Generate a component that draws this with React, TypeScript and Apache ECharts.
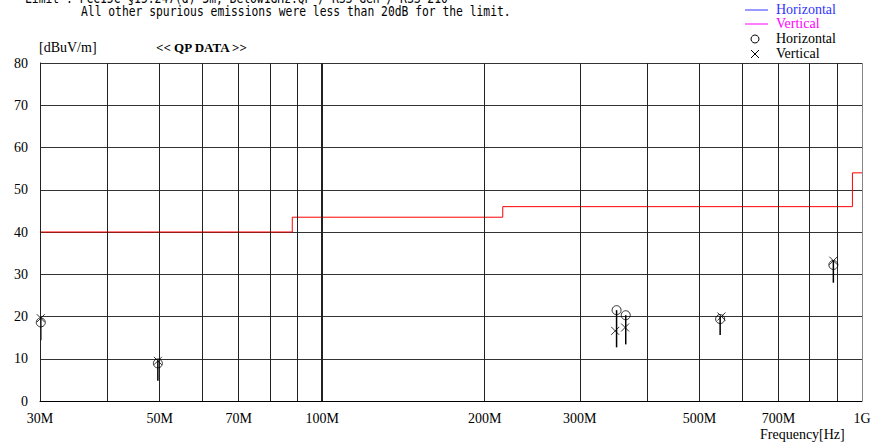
import React, { useEffect, useRef } from "react";
import * as echarts from "echarts";

// Grid frequencies (MHz)
const gridFreqs = [30, 40, 50, 60, 70, 80, 90, 100, 200, 300, 400, 500, 600, 700, 800, 900, 1000];
const tickFreqs = [30, 50, 70, 100, 200, 300, 500, 700, 1000];
const tickLabels = ["30M", "50M", "70M", "100M", "200M", "300M", "500M", "700M", "1G"];

// Limit line (step)
const limitFreq = [30, 88, 88, 216, 216, 960, 960, 1000];
const limitVal = [40, 40, 43.5, 43.5, 46, 46, 54, 54];

// QP data: Horizontal (circle)
const hFreq = [30.1, 49.6, 351, 365, 546, 885];
const hVal = [18.6, 8.9, 21.5, 20.3, 19.4, 32.2];
// QP data: Vertical (cross)
const vFreq = [30.1, 49.6, 349, 364, 549, 885];
const vVal = [19.6, 9.5, 16.6, 17.4, 20.0, 33.2];
// Stem bottoms
const stemLow = [14.4, 4.8, 12.7, 13.4, 15.6, 28.0];

const serif = "'Liberation Serif', 'Times New Roman', serif";
const mono = "'DejaVu Sans Mono', 'Liberation Mono', monospace";

export default function App() {
  const ref = useRef<HTMLDivElement>(null);
  useEffect(() => {
    if (!ref.current) return;
    const chart = echarts.init(ref.current, undefined, { renderer: "svg" });
    const stemData = hFreq.map((f, i) => [f, Math.max(hVal[i], vVal[i]), stemLow[i]]);
    const option: any = {
      animation: false,
      backgroundColor: "#fff",
      grid: { left: 40, right: 10, top: 63, bottom: 42, containLabel: false },
      xAxis: {
        type: "log",
        logBase: 10,
        min: 30,
        max: 1000,
        axisLine: { show: true, lineStyle: { color: "#000", width: 1 } },
        axisTick: { show: false },
        axisLabel: { show: false },
        splitLine: { show: false },
        minorSplitLine: { show: false },
      },
      yAxis: {
        type: "value",
        min: 0,
        max: 80,
        interval: 10,
        axisLine: { show: true, lineStyle: { color: "#000", width: 1 } },
        axisTick: { show: false },
        axisLabel: { color: "#000", fontFamily: serif, fontSize: 14, margin: 12 },
        splitLine: { show: true, lineStyle: { color: "#333", width: 1 } },
      },
      graphic: [
        { type: "text", x: 25, y: -9, scaleX: 0.84, style: { x: 0, y: 0, text: "Limit : FCC15C §15.247(d) 3m, Below1GHz:QP / RSS-Gen / RSS-210", font: `13.5px ${mono}`, fill: "#000", verticalAlign: "top", align: "left" } },
        { type: "text", x: 81, y: 4, scaleX: 0.84, style: { x: 0, y: 0, text: "All other spurious emissions were less than 20dB for the limit.", font: `13.5px ${mono}`, fill: "#000", verticalAlign: "top", align: "left" } },
        { type: "text", left: 39, top: 40, style: { text: "[dBuV/m]", font: `14px ${serif}`, fill: "#000" } },
        { type: "text", left: 156, top: 41, style: { text: "<< QP DATA >>", font: `bold 13px ${serif}`, fill: "#000" } },
        { type: "line", shape: { x1: 745, y1: 10, x2: 768, y2: 10 }, style: { stroke: "#3333ff", lineWidth: 1 } },
        { type: "text", left: 776, top: 2, style: { text: "Horizontal", font: `14px ${serif}`, fill: "#3333ff" } },
        { type: "line", shape: { x1: 745, y1: 24, x2: 768, y2: 24 }, style: { stroke: "#ff00ff", lineWidth: 1 } },
        { type: "text", left: 776, top: 16, style: { text: "Vertical", font: `14px ${serif}`, fill: "#ff00ff" } },
        { type: "circle", shape: { cx: 755, cy: 39, r: 4 }, style: { stroke: "#000", fill: "none", lineWidth: 1 } },
        { type: "text", left: 776, top: 31, style: { text: "Horizontal", font: `14px ${serif}`, fill: "#000" } },
        { type: "line", shape: { x1: 751, y1: 50, x2: 759, y2: 58 }, style: { stroke: "#000", lineWidth: 1 } },
        { type: "line", shape: { x1: 759, y1: 50, x2: 751, y2: 58 }, style: { stroke: "#000", lineWidth: 1 } },
        { type: "text", left: 776, top: 46, style: { text: "Vertical", font: `14px ${serif}`, fill: "#000" } },
        { type: "text", left: 760, top: 427, style: { text: "Frequency[Hz]", font: `14px ${serif}`, fill: "#000" } },
      ],
      series: [
        {
          type: "line",
          data: [[30, 0]],
          showSymbol: false,
          silent: true,
          z: 1,
          lineStyle: { width: 0 },
          markLine: {
            silent: true,
            symbol: ["none", "none"],
            animation: false,
            data: gridFreqs.map((f) => {
              const idx = tickFreqs.indexOf(f);
              return {
                xAxis: f,
                lineStyle: { color: f === 1000 ? "#888" : "#222", width: f === 100 ? 2 : 1, type: "solid" },
                label: {
                  show: idx >= 0,
                  position: "start",
                  formatter: idx >= 0 ? tickLabels[idx] : "",
                  color: "#000",
                  fontFamily: serif,
                  fontSize: 14,
                  distance: 10,
                },
              };
            }),
          },
        },
        {
          type: "line",
          name: "Limit",
          data: limitFreq.map((f, i) => [f, limitVal[i]]),
          showSymbol: false,
          z: 3,
          lineStyle: { color: "#ff0000", width: 1 },
          itemStyle: { color: "#ff0000" },
        },
        {
          type: "custom",
          z: 4,
          data: stemData,
          encode: { x: 0, y: [1, 2] },
          renderItem: (params: any, api: any) => {
            const f = api.value(0);
            const p1 = api.coord([f, api.value(1)]);
            const p2 = api.coord([f, api.value(2)]);
            return {
              type: "line",
              shape: { x1: p1[0], y1: p1[1], x2: p2[0], y2: p2[1] },
              style: { stroke: "#000", lineWidth: 1.5 },
            };
          },
        },
        {
          type: "scatter",
          name: "Horizontal",
          z: 5,
          data: hFreq.map((f, i) => [f, hVal[i]]),
          symbol: "circle",
          symbolSize: 9,
          itemStyle: { color: "rgba(0,0,0,0)", borderColor: "#000", borderWidth: 1 },
        },
        {
          type: "scatter",
          name: "Vertical",
          z: 5,
          data: vFreq.map((f, i) => [f, vVal[i]]),
          symbol: "path://M0,0L10,10M10,0L0,10",
          symbolSize: 8,
          itemStyle: { color: "rgba(0,0,0,0)", borderColor: "#000", borderWidth: 1 },
        },
      ],
    };
    chart.setOption(option);
    return () => chart.dispose();
  }, []);
  return <div ref={ref} style={{ width: 872, height: 443, position: "absolute", left: 0, top: 0 }} />;
}
